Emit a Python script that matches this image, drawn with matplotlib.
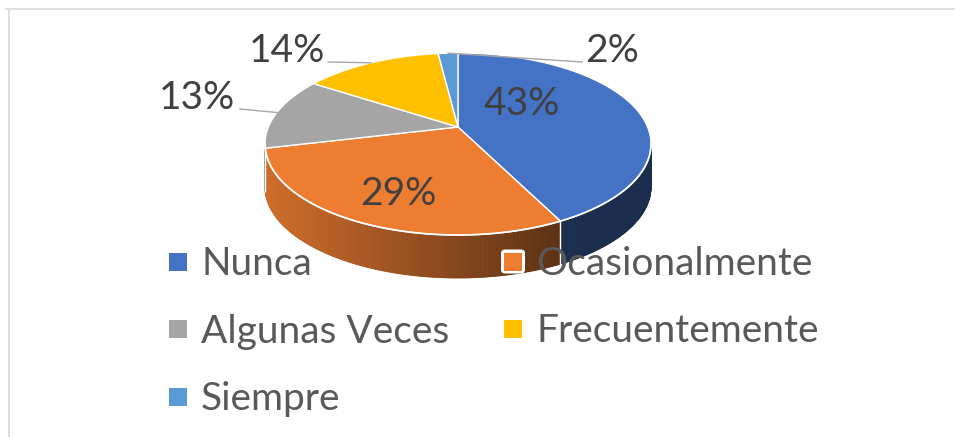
import numpy as np
import matplotlib.pyplot as plt
import matplotlib.colors as mcolors
from matplotlib.patches import Polygon, Rectangle, FancyBboxPatch

# data
categories = ["Nunca", "Ocasionalmente", "Algunas Veces", "Frecuentemente", "Siempre"]
percentages = [43, 29, 13, 14, 2]
colors = ["#4472c4", "#ed7d31", "#a5a5a5", "#ffc000", "#5b9bd5"]

# label placement (pixels), leader line start for outside labels
label_xy = [(522, 101), (398, 191), (197, 95), (287, 48), (612, 48)]
leader_xy = [None, None, (240, 109), (328, 62), (582, 62)]

plt.rcParams['font.family'] = ['Lato', 'DejaVu Sans']

fig = plt.figure(figsize=(9.55, 4.37), dpi=100)
ax = fig.add_axes([0, 0, 1, 1])
ax.set_xlim(0, 955)
ax.set_ylim(437, 0)
ax.axis('off')

# chart border (only top and left visible)
ax.plot([5, 955], [8.5, 8.5], color="#d9d9d9", lw=1.2, solid_capstyle='butt')
ax.plot([9, 9], [8.5, 437], color="#d9d9d9", lw=1.2, solid_capstyle='butt')

# 3D pie geometry in pixels (simple perspective tilt)
cx, cy = 458, 127
rx, ry = 189.6, 87.8
k = 0.187
depth = 43


def proj(theta, r=1.0):
    u = r * np.sin(theta)
    v = -r * np.cos(theta)
    w = 1 - k * v
    return cx + rx * u / w, cy + ry * v / w


vals = np.array(percentages, dtype=float)
bounds = np.concatenate([[0], np.cumsum(vals / vals.sum())]) * 2 * np.pi

# front (visible) part of the side wall
th_r = np.arccos(-k)
th_l = 2 * np.pi - th_r
x_left, x_right = cx - rx, cx + 0.5 * rx

for i in range(len(vals)):
    a = max(bounds[i], th_r)
    b = min(bounds[i + 1], th_l)
    if b <= a:
        continue
    base = np.array(mcolors.to_rgb(colors[i]))
    ts = np.linspace(a, b, max(int(np.degrees(b - a) * 3), 2))
    xs, ys = proj(ts)
    for j in range(len(ts) - 1):
        quad = [(xs[j], ys[j]), (xs[j + 1], ys[j + 1]),
                (xs[j + 1], ys[j + 1] + depth), (xs[j], ys[j] + depth)]
        t = np.clip(((xs[j] + xs[j + 1]) / 2 - x_left) / (x_right - x_left), 0, 1)
        c = base * (0.87 - 0.47 * t)
        ax.add_patch(Polygon(quad, closed=True, facecolor=c, edgecolor=c,
                             lw=0.6, zorder=1))

# white seams between side walls
for b in bounds[1:-1]:
    if th_r < b < th_l:
        x0, y0 = proj(b)
        ax.plot([x0, x0], [y0, y0 + depth], color="white", lw=1.0, zorder=2)

# top faces
for i in range(len(vals)):
    ts = np.linspace(bounds[i], bounds[i + 1], 200)
    xs, ys = proj(ts)
    pts = [(cx, cy)] + list(zip(xs, ys))
    ax.add_patch(Polygon(pts, closed=True, facecolor=colors[i],
                         edgecolor="white", lw=1.0, zorder=3))

# white rim along front top edge
ts = np.linspace(th_r, th_l, 300)
xs, ys = proj(ts)
ax.plot(xs, ys, color="white", lw=1.2, zorder=4)

# data labels and leader lines
for i in range(len(vals)):
    lx, ly = label_xy[i]
    ax.text(lx, ly + 14, f"{percentages[i]}%", ha="center", va="baseline",
            fontsize=28, color="#404040", zorder=6)
    if leader_xy[i] is not None:
        mx, my = proj((bounds[i] + bounds[i + 1]) / 2)
        sx, sy = leader_xy[i]
        ax.plot([sx, mx], [sy, my], color="#a6a6a6", lw=1.0, zorder=5)

# legend (Excel style, two columns row-wise)
col_x = [178, 513]
row_y = [261.5, 329, 396.7]
for i, name in enumerate(categories):
    mx = col_x[i % 2]
    my = row_y[i // 2]
    ax.add_patch(FancyBboxPatch((mx - 12, my - 12), 24, 24,
                                boxstyle="round,pad=0,rounding_size=4",
                                facecolor="white", edgecolor="none", zorder=7))
    ax.add_patch(Rectangle((mx - 9, my - 9), 18, 18, facecolor=colors[i],
                           edgecolor="none", zorder=8))
    ax.text(mx + 23, my + 13.5, name, ha="left", va="baseline",
            fontsize=28, color="#595959", zorder=8)

fig.savefig("out.png", dpi=100)
